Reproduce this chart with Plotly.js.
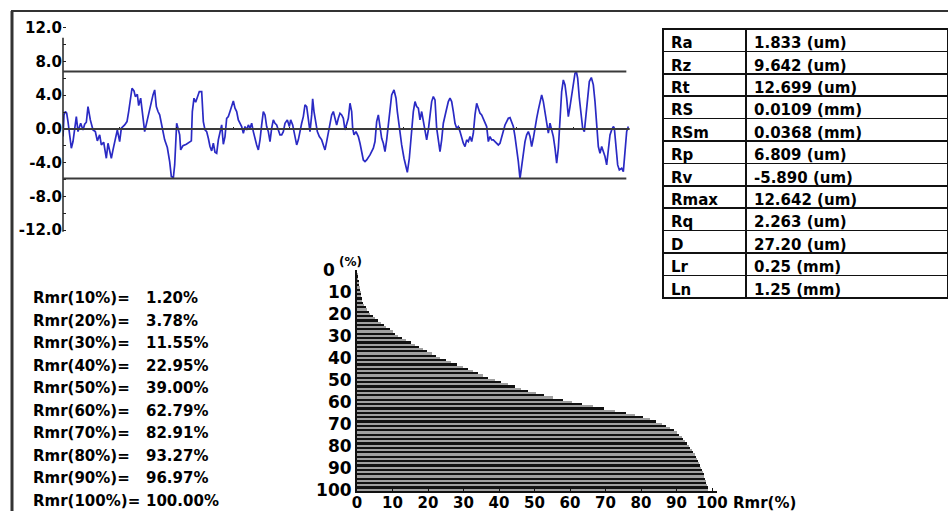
<!DOCTYPE html>
<html>
<head>
<meta charset="utf-8">
<script src="https://cdn.plot.ly/plotly-3.0.1.min.js"></script>
<style>html,body{margin:0;padding:0;background:#fff;}#chart{width:948px;height:511px;}</style>
</head>
<body>
<div id="chart"></div>
<script>
// ---- Roughness profile (sampling position, height in um) ----
const profX = [
0,3,7,11,15,20,25,30,35,40,
45,50,53,60,65,70,75,82,90,97,
103,110,115,122,130,135,140,145,150,155,
163,170,175,185,192,197,202,207,213,217,
223,227,233,240,245,253,263,270,275,280,
285,290,297,305,313,320,325,331,335,338,
341,345,350,353,360,370,380,385,388,393,
398,403,409,
416,421,426,431,436,441,446,451,456,461,
466,471,476,481,486,491,496,501,506,511,
516,521,526,531,536,541,546,551,556,561,
566,571,576,581,586,591,596,601,606,611,
616,621,626,631,636,641,646,651,656,661,
666,673,679,683,689,696,701,706,711,716,
721,726,731,736,741,746,749,753,759,763,
769,776,781,786,791,796,801,806,811,816,
821,826,831,
836,841,846,851,856,861,866,869,873,879,
886,891,896,901,906,911,921,931,936,941,
946,951,956,961,966,971,976,981,986,993,
999,1003,1009,1016,1023,1029,1033,1039,1043,1047,
1051,1056,1061,1066,1071,1076,1081,1086,1091,1096,
1101,1106,1111,1116,1121,1126,1131,1136,1141,1149,
1156,1161,1166,1171,1176,1181,1186,1191,1196,1201,
1206,1211,1216,1221,1226,1231,1236,1241,1246,
1251,1256,1261,1266,1271,1276,1281,1286,1291,1296,
1301,1306,1311,1316,1321,1326,1331,1336,1341,1346,
1351,1356,1361,1366,1371,1376,1381,1386,1391,1396,
1401,1406,1411,1416,1421,1426,1431,1436,1441,1446,
1451,1456,1461,1466,1471,1476,1481,1486,1491,1496,
1501,1506,1511,1516,1521,1526,1531,1536,1540,1544,
1549,1554,1559,1564,1569,1574,1579,1585,1591,1596,
1601,1606,1611,1616,1621,1626,1631,1636,1641,1646,
1651,1654,1659,1664,1669,1676,1681,1686,1691,1696
];
const profY = [
-0.91,1.66,2.06,1.86,0.87,-0.91,-2.29,-1.50,0.28,1.46,
-0.32,0.47,0.67,-0.12,0.55,0.79,2.65,1.07,-0.12,-0.32,
-1.42,-0.71,-1.90,-1.58,-3.48,-1.70,-2.77,-3.48,-2.49,-1.50,
-0.12,-1.50,0.08,0.47,0.87,2.06,3.64,4.82,4.51,3.83,
4.11,2.77,3.64,1.07,-0.32,1.07,3.04,4.03,4.62,2.65,
2.06,1.66,0.28,-1.30,-2.21,-3.87,-5.65,-5.80,-4.27,-1.90,
0.67,0.08,-0.71,-2.49,-1.98,-1.82,-1.58,-1.42,2.06,3.64,
3.16,3.64,4.43,
4.43,0.87,-0.12,-0.32,-1.11,-2.09,-2.61,-1.70,-2.77,-2.89,
-1.30,-0.51,0.47,-1.82,-0.91,1.26,1.46,2.06,2.65,3.32,
2.45,2.06,1.07,0.67,0.28,-0.51,0.28,-0.12,0.47,0.08,
0.67,-0.32,-1.30,-1.90,-2.49,-1.30,0.47,2.06,1.66,0.28,
-0.32,-1.50,0.08,1.07,0.67,0.47,-0.12,-0.71,-0.71,-0.32,
0.67,1.07,0.28,1.07,0.47,-1.11,-1.90,-1.30,-0.12,0.67,
1.46,2.85,2.65,1.26,-0.32,1.66,3.56,2.06,0.87,-0.32,
-0.91,-1.30,-1.90,-2.49,-1.50,-0.32,0.87,1.66,2.06,1.07,
0.47,1.26,1.86,
1.66,1.26,-0.12,0.67,1.26,3.04,2.06,0.08,-0.71,-0.32,
-0.91,-1.70,-2.69,-3.68,-3.87,-3.68,-3.08,-2.29,-1.50,0.87,
1.66,0.28,-1.11,-1.70,-2.69,-1.30,0.67,2.85,4.03,4.62,
3.64,2.06,-0.12,-1.90,-3.48,-4.66,-5.14,-3.48,-1.50,0.47,
2.06,3.24,2.65,2.45,1.07,2.06,1.07,-0.32,-1.30,-0.12,
1.66,3.24,3.83,3.44,0.08,-1.50,-2.69,-1.30,0.67,2.06,
3.24,3.64,3.24,2.06,0.67,0.08,0.28,-0.32,-1.11,-1.70,
-2.09,-1.30,-1.50,-0.91,-1.50,-0.51,1.66,3.04,2.45,
1.86,1.66,1.26,0.67,0.28,-1.50,-0.91,-1.30,-1.30,-1.50,
-1.70,-1.90,-1.70,-0.91,-0.32,0.47,0.87,1.26,1.34,0.87,
0.28,-0.91,-2.29,-3.87,-5.89,-4.27,-2.69,-1.50,-0.71,-0.32,
-0.91,-2.09,-1.11,0.28,1.26,2.25,3.24,4.03,3.24,2.06,
0.47,-0.51,0.67,-0.12,-0.91,-2.29,-4.07,-2.29,0.87,4.43,
5.81,5.22,3.64,1.46,2.65,3.83,5.22,6.60,6.81,6.01,
3.64,1.66,0.08,-0.32,1.66,4.03,5.61,6.09,5.22,3.24,
0.47,-2.09,-2.89,-2.09,-2.69,-3.28,-4.27,-2.29,-0.71,-0.12,
0.28,0.08,-1.90,-4.27,-4.86,-4.66,-5.06,-3.08,-0.32,0.28
];
const profileEnd = 1690;          // end of reference lines
const peakLine = 6.809;           // Rp
const valleyLine = -5.890;        // Rv
const profTickVals = [12, 8, 4, 0, -4, -8, -12];
const profTickText = ['12.0', '8.0', '4.0', '0.0', '-4.0', '-8.0', '-12.0'];

// ---- Parameter table ----
const paramNames = ['Ra','Rz','Rt','RS','RSm','Rp','Rv','Rmax','Rq','D','Lr','Ln'];
const paramValues = ['1.833 (um)','9.642 (um)','12.699 (um)','0.0109 (mm)','0.0368 (mm)','6.809 (um)',
  '-5.890 (um)','12.642 (um)','2.263 (um)','27.20 (um)','0.25 (mm)','1.25 (mm)'];

// ---- Material ratio list ----
const rmrLevels = [10,20,30,40,50,60,70,80,90,100];
const rmrValues = [1.20,3.78,11.55,22.95,39.00,62.79,82.91,93.27,96.97,100.00];

// ---- Bearing (Abbott) curve: depth level (%) vs Rmr (%) ----
const depthLevels = [
1,2,3,4,5,6,7,8,9,10,11,12,13,14,15,16,17,18,19,20,
21,22,23,24,25,26,27,28,29,30,31,32,33,34,35,36,37,38,39,40,
41,42,43,44,45,46,47,48,49,50,51,52,53,54,55,56,57,58,59,60,
61,62,63,64,65,66,67,68,69,70,71,72,73,74,75,76,77,78,79,80,
81,82,83,84,85,86,87,88,89,90,91,92,93,94,95,96,97,98,99,100];
const bearingRmr = [
0.1,0.2,0.3,0.4,0.5,0.6,0.7,0.8,0.9,1.0,1.1,1.2,1.3,1.5,1.8,2.1,2.5,2.9,3.4,3.8,
4.4,5.1,5.9,6.7,7.5,8.3,9.2,10.0,10.8,11.6,12.7,13.9,15.1,16.3,17.5,18.6,19.8,21.0,22.2,23.3,
25.0,26.6,28.3,29.8,31.2,32.6,34.0,35.4,37.0,38.8,40.5,42.4,44.4,46.3,48.2,50.5,52.8,55.3,57.9,60.6,
63.5,66.4,69.5,72.6,75.8,78.3,80.5,82.5,84.3,85.8,87.1,88.3,89.3,90.1,90.8,91.4,91.9,92.4,92.9,93.4,
93.9,94.3,94.7,95.1,95.5,95.8,96.1,96.4,96.7,97.0,97.2,97.4,97.6,97.8,98.0,98.2,98.4,98.6,98.8,99.0];
const bearingTicks = [0,10,20,30,40,50,60,70,80,90,100];
const bearingAxisUnit = '(%)';
const bearingAxisTitle = 'Rmr(%)';

// ---- Layout helpers ----
const W = 948, H = 511;
const px = v => v / W;
const py = v => 1 - v / H;
const FONT = 'DejaVu Sans';
const boldFont = (size) => ({family: FONT, size: size, color: '#000', weight: 'bold'});

const profileTrace = {
  type: 'scatter', mode: 'lines', x: profX, y: profY, xaxis: 'x', yaxis: 'y',
  line: {color: '#2a2ac4', width: 1.7}, hoverinfo: 'skip'
};

const barTrace = {
  type: 'bar', orientation: 'h', x: bearingRmr, y: depthLevels, xaxis: 'x2', yaxis: 'y2',
  width: 1,
  marker: {color: depthLevels.map((d, i) => i % 2 === 0 ? '#111111' : '#a0a0a0'), line: {width: 0}},
  hoverinfo: 'skip'
};

const tableTrace = {
  type: 'table',
  domain: {x: [px(663), 1], y: [py(299), py(29)]},
  columnwidth: [83, 202],
  header: {
    values: [paramNames[0], paramValues[0]],
    align: 'left', height: 22.4,
    line: {color: '#111', width: 1.5}, fill: {color: '#fff'},
    font: boldFont(15)
  },
  cells: {
    values: [paramNames.slice(1), paramValues.slice(1)],
    align: 'left', height: 22.4,
    line: {color: '#111', width: 1.5}, fill: {color: '#fff'},
    font: boldFont(15)
  }
};

const annotations = [];
rmrLevels.forEach((lv, i) => {
  const yy = py(298 + i * 22.5);
  annotations.push({xref: 'paper', yref: 'paper', x: px(31), y: yy, xanchor: 'left', yanchor: 'middle',
    text: 'Rmr(' + lv + '%)=', showarrow: false, font: boldFont(15)});
  annotations.push({xref: 'paper', yref: 'paper', x: px(144), y: yy, xanchor: 'left', yanchor: 'middle',
    text: rmrValues[i].toFixed(2) + '%', showarrow: false, font: boldFont(15)});
});
// "0" label of the bearing depth axis, followed by its unit
annotations.push({xref: 'paper', yref: 'y2', x: px(337), y: bearingTicks[0], xanchor: 'right', yanchor: 'middle',
  text: String(bearingTicks[0]), showarrow: false, font: boldFont(17)});
annotations.push({xref: 'paper', yref: 'paper', x: px(337), y: py(262), xanchor: 'left', yanchor: 'middle',
  text: bearingAxisUnit, showarrow: false, font: boldFont(12)});
annotations.push({xref: 'paper', yref: 'paper', x: px(731), y: py(503), xanchor: 'left', yanchor: 'middle',
  text: bearingAxisTitle, showarrow: false, font: boldFont(15)});

const shapes = [
  // outer frame
  {type: 'line', xref: 'paper', yref: 'paper', x0: px(12), x1: px(12), y0: 0, y1: py(11), line: {color: '#333', width: 3}},
  {type: 'line', xref: 'paper', yref: 'paper', x0: px(11), x1: 1, y0: py(11), y1: py(11), line: {color: '#333', width: 2}},
  // profile y axis line
  {type: 'line', xref: 'paper', yref: 'y', x0: px(63), x1: px(63), y0: 10.8, y1: -12.2, line: {color: '#222', width: 1.5}},
  // reference lines
  {type: 'line', xref: 'x', yref: 'y', x0: 0, x1: profileEnd, y0: peakLine, y1: peakLine, line: {color: '#3a3a3a', width: 2}},
  {type: 'line', xref: 'x', yref: 'y', x0: 0, x1: profileEnd + 10, y0: 0, y1: 0, line: {color: '#3a3a3a', width: 2}},
  {type: 'line', xref: 'x', yref: 'y', x0: 0, x1: profileEnd, y0: valleyLine, y1: valleyLine, line: {color: '#3a3a3a', width: 2}}
];

const layout = {
  width: W, height: H,
  margin: {l: 0, r: 0, t: 0, b: 0, pad: 0},
  paper_bgcolor: '#fff', plot_bgcolor: 'rgba(0,0,0,0)',
  showlegend: false,
  bargap: 0,
  xaxis: {
    domain: [px(63), px(630)], range: [0, 1701], anchor: 'free', position: py(129),
    showgrid: false, zeroline: false, showline: false, showticklabels: false,
    ticks: 'inside', ticklen: 2, tickcolor: '#222', tick0: 0, dtick: 170.1
  },
  yaxis: {
    domain: [py(233.5), py(26)], range: [-12.4, 12.2], anchor: 'x',
    showgrid: false, zeroline: false, showline: false,
    tickvals: profTickVals, ticktext: profTickText,
    ticks: 'inside', ticklen: 3, tickcolor: '#222',
    minor: {tickvals: [10, 6, 2, -2, -6, -10], ticks: 'inside', ticklen: 3, tickcolor: '#222'},
    tickfont: boldFont(15)
  },
  xaxis2: {
    domain: [px(357), px(717)], range: [0, 101.4], anchor: 'y2',
    showgrid: false, zeroline: false, showline: true, linecolor: '#111', linewidth: 2,
    tickvals: bearingTicks, ticktext: bearingTicks.map(String),
    ticks: 'inside', ticklen: 3, tickcolor: '#111',
    ticklabelstandoff: -3,
    tickfont: boldFont(15)
  },
  yaxis2: {
    domain: [py(491), py(270)], range: [100.6, 0], anchor: 'x2',
    showgrid: false, zeroline: false, showline: true, linecolor: '#111', linewidth: 2,
    tickvals: bearingTicks.slice(1), ticktext: bearingTicks.slice(1).map(String),
    ticks: '', tickfont: boldFont(17)
  },
  annotations: annotations,
  shapes: shapes
};

Plotly.newPlot('chart', [barTrace, profileTrace, tableTrace], layout, {displayModeBar: false, staticPlot: true});
</script>
</body>
</html>
